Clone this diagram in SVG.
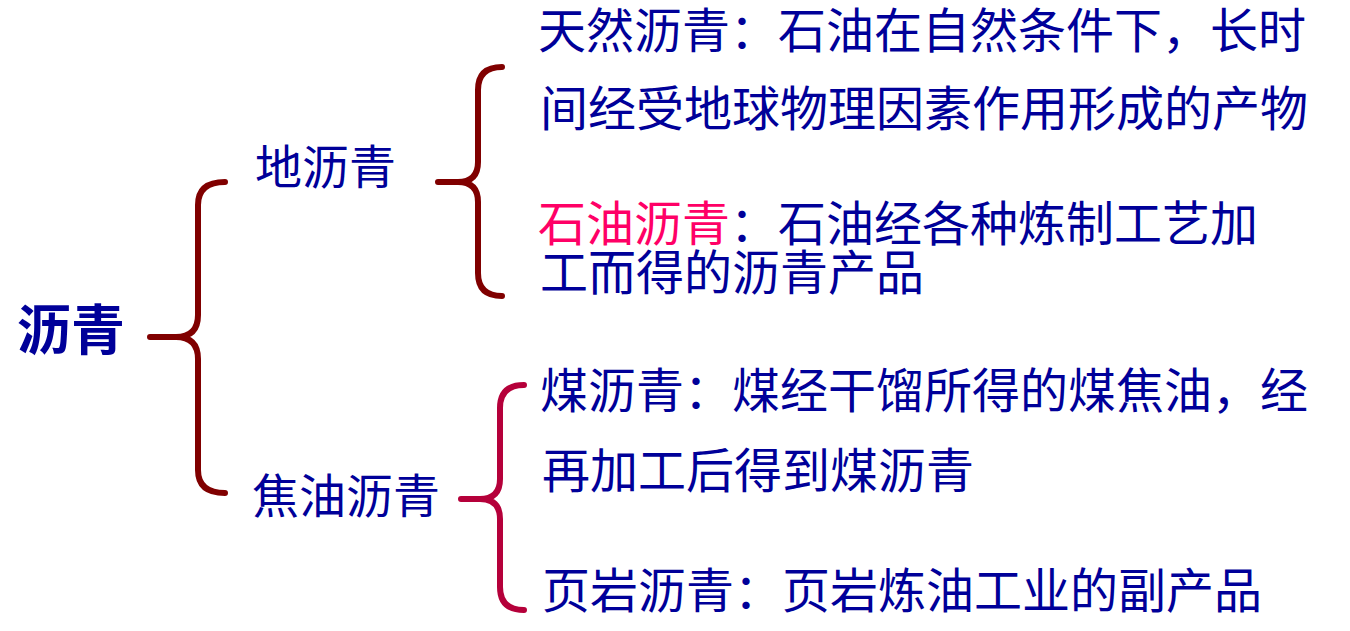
<svg xmlns="http://www.w3.org/2000/svg" width="1350" height="631" viewBox="0 0 1350 631">
<style>
text{font-family:"Noto Sans CJK SC","Noto Sans CJK JP",sans-serif;fill:#000099}
.r{font-size:48px}
.m{font-size:47px}
.l{font-size:54px;font-weight:bold}
.red{fill:#ff0066}
.b{fill:none;stroke-width:6;stroke-linecap:round;stroke-linejoin:round}
.b1{stroke:#800000}
.b2{stroke:#b5003a}
</style>
<rect width="1350" height="631" fill="#ffffff"/>
<g id="root"><text class="l" x="17" y="350">沥青</text></g>
<g id="n-diliqing"><text class="m" x="255" y="184">地沥青</text></g>
<g id="n-jiaoyou"><text class="m" x="252" y="513">焦油沥青</text></g>
<g id="n-tianran"><text class="r" x="538" y="48">天然沥青：石油在自然条件下，长时</text><text class="r" x="540" y="126">间经受地球物理因素作用形成的产物</text></g>
<g id="n-shiyou"><text class="r" x="538" y="241"><tspan class="red">石油沥青</tspan>：石油经各种炼制工艺加</text><text class="r" x="540" y="290">工而得的沥青产品</text></g>
<g id="n-mei"><text class="r" x="540" y="408">煤沥青：煤经干馏所得的煤焦油，经</text><text class="r" x="542" y="488">再加工后得到煤沥青</text></g>
<g id="n-yeyan"><text class="r" x="542" y="608">页岩沥青：页岩炼油工业的副产品</text></g>
<g id="connectors">
<path class="b b1" d="M150,337 H176 Q198,337 198,315 V205 Q198,182 225,182 M176,337 Q198,337 198,359 V470 Q198,493 225,493"/>
<path class="b b1" d="M438,182 H458 Q478,182 478,162 V90 Q478,67 502,67 M458,182 Q478,182 478,202 V273 Q478,296 502,296"/>
<path class="b b2" d="M461,499 H480 Q500,499 500,479 V408 Q500,385 524,385 M480,499 Q500,499 500,519 V587 Q500,610 524,610"/>
</g>
</svg>
